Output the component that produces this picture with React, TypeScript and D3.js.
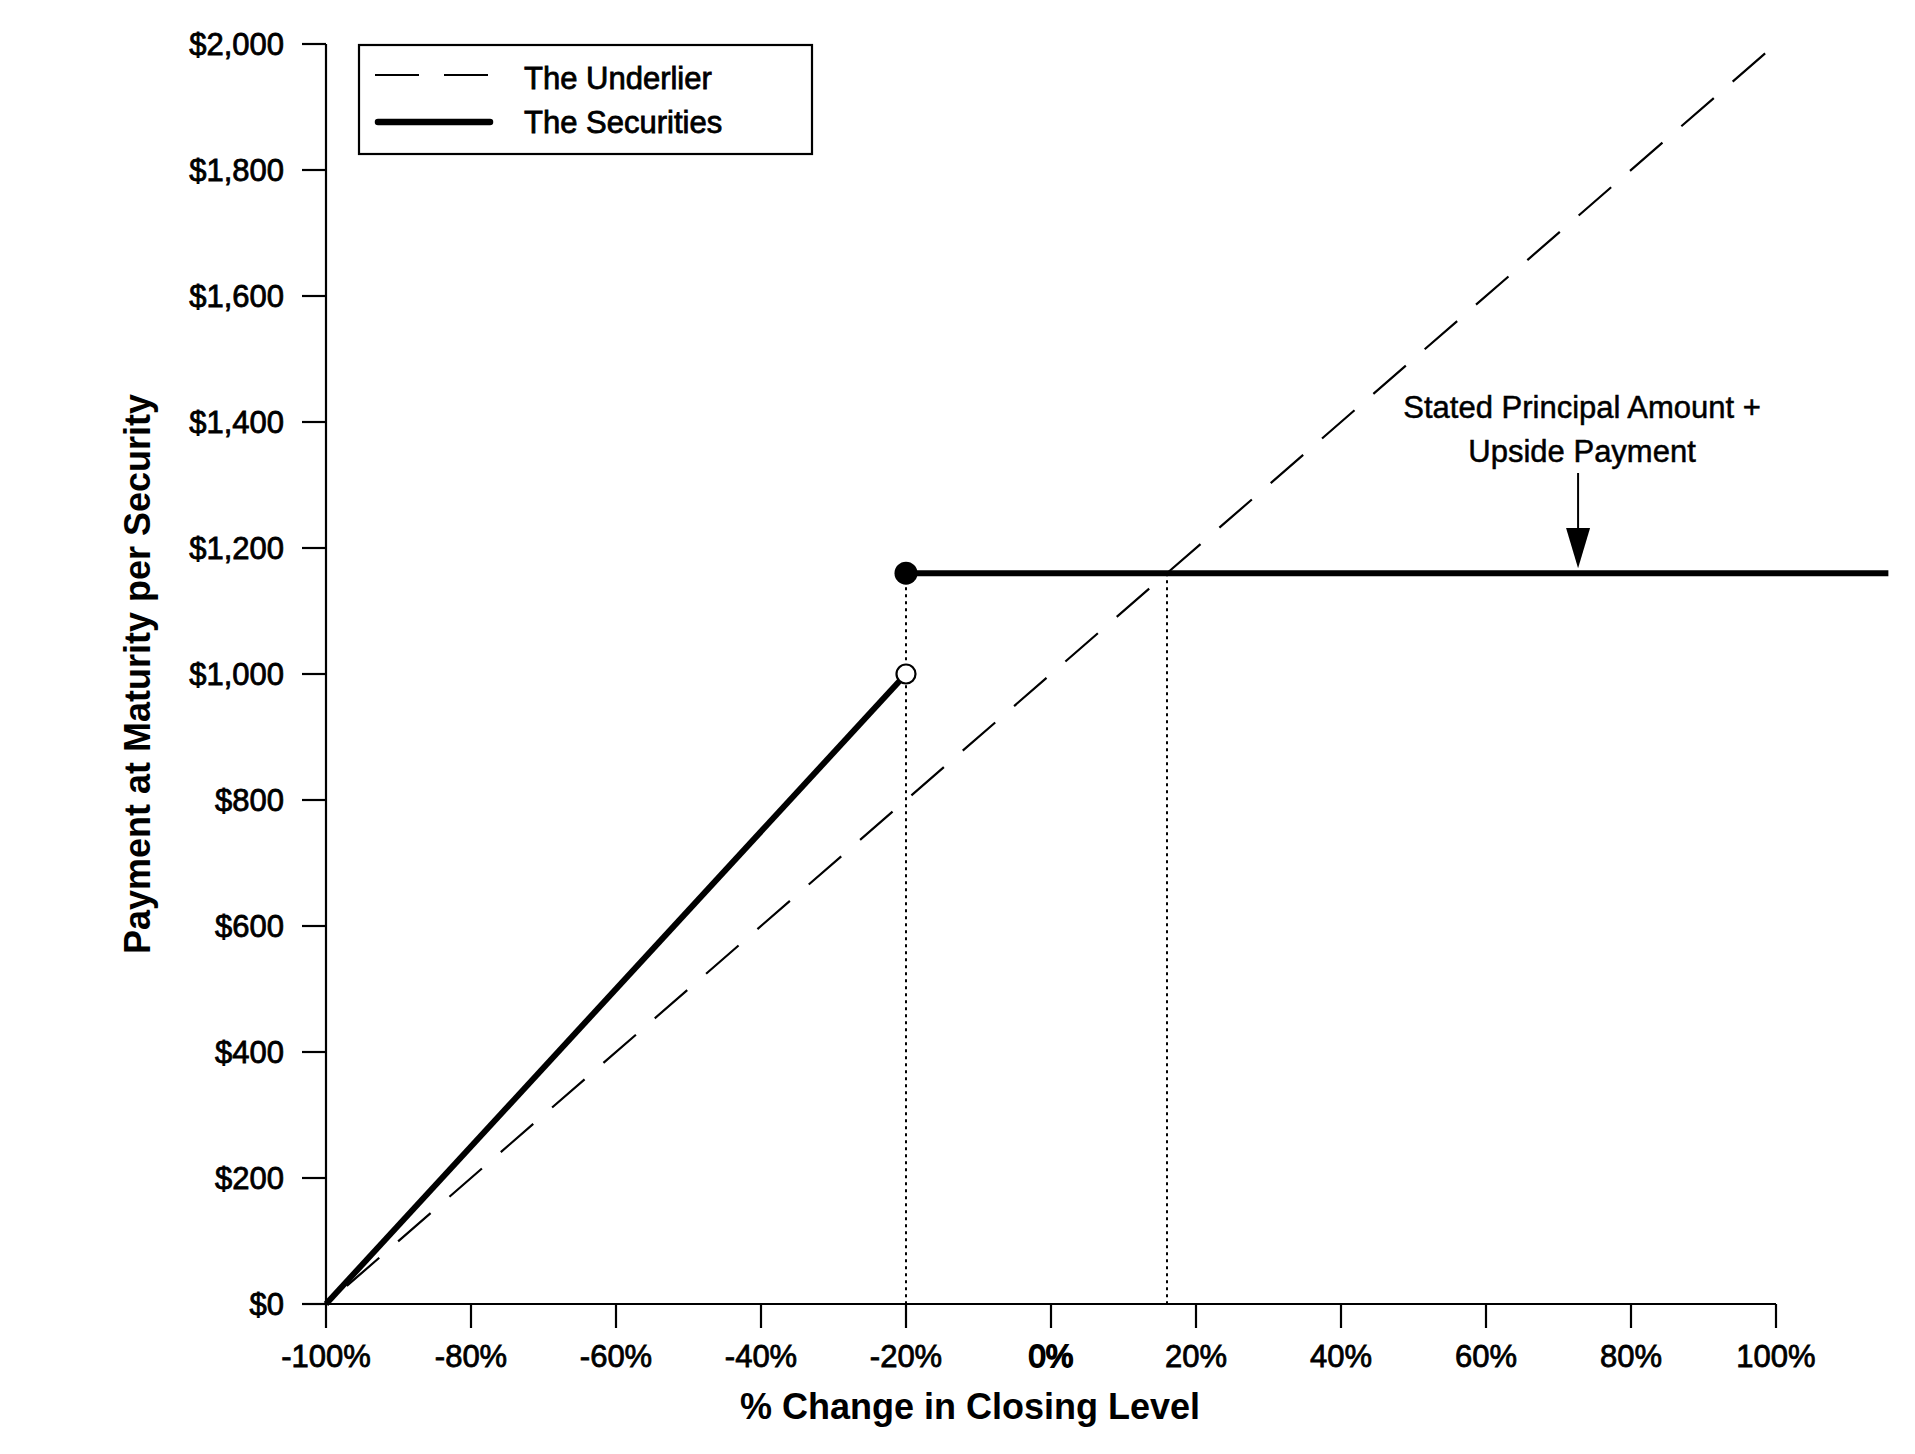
import * as d3 from "d3";

// percent change in closing level vs payment at maturity
const underlierX = [-100, 98.5];
const underlierY = [0, 1985];
const securitiesLowX = [-100, -20];
const securitiesLowY = [0, 1000];
const securitiesCapX = [-20, 115.5];
const securitiesCapY = [1160, 1160];
const capCrossX = 16;
const arrowX = 72.7;
const xTicks = [-100, -80, -60, -40, -20, 0, 20, 40, 60, 80, 100];
const yTicks = [0, 200, 400, 600, 800, 1000, 1200, 1400, 1600, 1800, 2000];
const legendLabels = ["The Underlier", "The Securities"];
const annotationLines = ["Stated Principal Amount +", "Upside Payment"];

export default function App() {
  const width = 1915;
  const height = 1454;
  const font = "'Liberation Sans', Arial, sans-serif";

  const x = d3.scaleLinear().domain([-100, 100]).range([326, 1776]);
  const y = d3.scaleLinear().domain([0, 2000]).range([1304, 44]);

  const line = d3
    .line<[number, number]>()
    .x((d) => x(d[0]))
    .y((d) => y(d[1]));

  const zip = (xs: number[], ys: number[]) =>
    xs.map((v, i) => [v, ys[i]] as [number, number]);

  const [x0, x1] = x.range();
  const [yBottom, yTop] = y.range();
  const capY = y(securitiesCapY[0]);

  // align the dash pattern so the underlier ends on a full dash
  const dash = 43;
  const gap = 25;
  const underlierLen = Math.hypot(
    x(underlierX[1]) - x(underlierX[0]),
    y(underlierY[1]) - y(underlierY[0])
  );
  const dashOffset = (((dash - (underlierLen % (dash + gap))) % (dash + gap)) + dash + gap) % (dash + gap);

  return (
    <svg
      width={width}
      height={height}
      viewBox={`0 0 ${width} ${height}`}
      style={{ position: "absolute", left: 0, top: 0, background: "#fff" }}
      fontFamily={font}
    >
      {/* dotted guides */}
      <line
        x1={x(securitiesLowX[1])}
        x2={x(securitiesLowX[1])}
        y1={capY}
        y2={yBottom}
        stroke="#000"
        strokeWidth={2}
        strokeDasharray="3 4"
      />
      <line
        x1={x(capCrossX)}
        x2={x(capCrossX)}
        y1={capY}
        y2={yBottom}
        stroke="#000"
        strokeWidth={2}
        strokeDasharray="3 4"
      />

      {/* underlier */}
      <path
        d={line(zip(underlierX, underlierY)) ?? ""}
        fill="none"
        stroke="#000"
        strokeWidth={2.2}
        strokeDasharray={`${dash} ${gap}`}
        strokeDashoffset={dashOffset}
      />

      {/* securities */}
      <path
        d={line(zip(securitiesLowX, securitiesLowY)) ?? ""}
        fill="none"
        stroke="#000"
        strokeWidth={6}
      />
      <path
        d={line(zip(securitiesCapX, securitiesCapY)) ?? ""}
        fill="none"
        stroke="#000"
        strokeWidth={6}
      />
      <circle
        cx={x(securitiesLowX[1])}
        cy={y(securitiesLowY[1])}
        r={9.5}
        fill="#fff"
        stroke="#000"
        strokeWidth={2.2}
      />
      <circle cx={x(securitiesCapX[0])} cy={capY} r={11.5} fill="#000" />

      {/* axes */}
      <line x1={x0} x2={x0} y1={yTop} y2={yBottom} stroke="#000" strokeWidth={2.2} />
      <line x1={x0} x2={x1} y1={yBottom} y2={yBottom} stroke="#000" strokeWidth={2.2} />
      {yTicks.map((t) => (
        <g key={t} transform={`translate(0, ${y(t)})`}>
          <line x1={x0 - 24} x2={x0} stroke="#000" strokeWidth={2.2} />
          <text
            x={284}
            dy="0.35em"
            textAnchor="end"
            fontSize={31}
            stroke="#000"
            strokeWidth={0.8}
          >
            {d3.format("$,")(t)}
          </text>
        </g>
      ))}
      {xTicks.map((t) => (
        <g key={t} transform={`translate(${x(t)}, 0)`}>
          <line y1={yBottom} y2={yBottom + 24} stroke="#000" strokeWidth={2.2} />
          <text
            y={1367}
            textAnchor="middle"
            fontSize={31}
            stroke="#000"
            strokeWidth={t === 0 ? 1.8 : 0.8}
          >
            {`${t}%`}
          </text>
        </g>
      ))}

      {/* axis titles */}
      <text x={970} y={1419} textAnchor="middle" fontSize={36} fontWeight="bold">
        % Change in Closing Level
      </text>
      <text
        transform={`translate(150, ${(yTop + yBottom) / 2}) rotate(-90)`}
        textAnchor="middle"
        fontSize={36}
        fontWeight="bold"
      >
        Payment at Maturity per Security
      </text>

      {/* legend */}
      <rect x={359} y={45} width={453} height={109} fill="#fff" stroke="#000" strokeWidth={2.2} />
      <line x1={375} x2={489} y1={75} y2={75} stroke="#000" strokeWidth={2.2} strokeDasharray="44 25" />
      <line x1={378} x2={490} y1={122} y2={122} stroke="#000" strokeWidth={6.5} strokeLinecap="round" />
      {legendLabels.map((label, i) => (
        <text key={label} x={524} y={89 + i * 44} fontSize={31} stroke="#000" strokeWidth={0.8}>
          {label}
        </text>
      ))}

      {/* annotation */}
      {annotationLines.map((txt, i) => (
        <text
          key={txt}
          x={x(arrowX) + 4}
          y={418 + i * 44}
          textAnchor="middle"
          fontSize={31}
          stroke="#000"
          strokeWidth={0.5}
        >
          {txt}
        </text>
      ))}
      <line x1={x(arrowX)} x2={x(arrowX)} y1={473} y2={530} stroke="#000" strokeWidth={2} />
      <path
        d={`M${x(arrowX) - 12},528 L${x(arrowX) + 12},528 L${x(arrowX)},${capY - 5} Z`}
        fill="#000"
      />
    </svg>
  );
}
